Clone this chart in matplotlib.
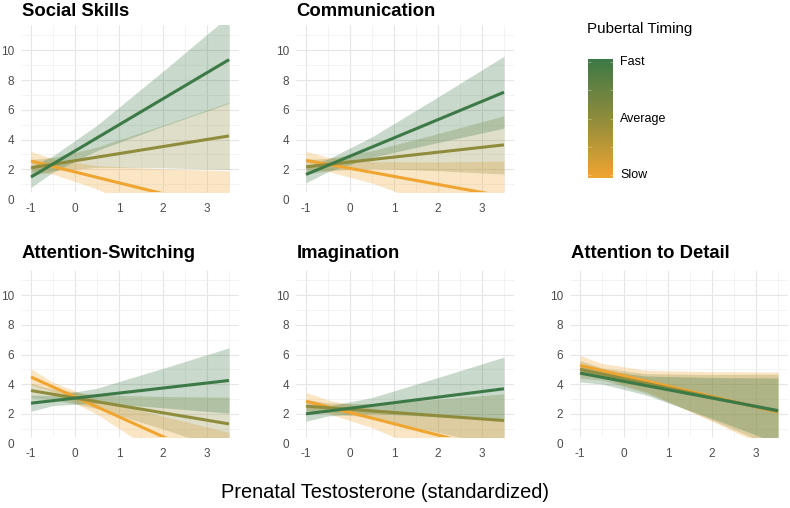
import numpy as np
import matplotlib
matplotlib.use("Agg")
import matplotlib.pyplot as plt
from matplotlib.colors import LinearSegmentedColormap
from matplotlib.patches import Rectangle

plt.rcParams["font.family"] = ["Liberation Sans", "DejaVu Sans"]

# DATA

panel_titles = ["Social Skills", "Communication", "Attention-Switching",
                "Imagination", "Attention to Detail"]
groups = ["Slow", "Average", "Fast"]
legend_labels = ["Fast", "Average", "Slow"]

line_x = [-1, 3.5]
band_x = [-1, -0.5, 0.5, 2, 3.5]

# order inside each list: Slow, Average, Fast
social_line = [[2.55, -0.74], [2.10, 4.24], [1.48, 9.37]]
social_low = [[1.90, 1.67, 0.67, -1.31, -3.38],
              [1.54, 1.89, 2.13, 2.10, 1.98],
              [0.78, 1.81, 3.26, 4.89, 6.43]]
social_high = [[3.20, 2.70, 2.24, 2.03, 1.90],
               [2.66, 2.79, 3.49, 4.96, 6.50],
               [2.18, 2.90, 4.96, 8.59, 12.31]]

comm_line = [[2.60, 0.17], [2.16, 3.64], [1.65, 7.18]]
comm_low = [[2.00, 1.85, 1.07, -0.53, -2.21],
            [1.66, 1.91, 2.05, 1.90, 1.68],
            [1.09, 1.84, 2.80, 3.80, 4.76]]
comm_high = [[3.20, 2.81, 2.51, 2.49, 2.55],
             [2.66, 2.73, 3.25, 4.40, 5.60],
             [2.21, 2.68, 4.18, 6.86, 9.60]]

switch_line = [[4.48, -1.55], [3.57, 1.32], [2.72, 4.25]]
switch_low = [[3.92, 3.49, 1.97, -0.92, -3.85],
              [3.07, 2.97, 2.36, 0.97, -0.48],
              [2.17, 2.56, 2.73, 2.41, 2.05]]
switch_high = [[5.04, 4.13, 2.97, 1.84, 0.75],
               [4.07, 3.67, 3.28, 3.17, 3.12],
               [3.27, 3.22, 3.73, 5.07, 6.45]]

imag_line = [[2.85, -0.57], [2.52, 1.55], [2.00, 3.69]]
imag_low = [[2.25, 2.01, 1.07, -0.81, -2.77],
            [2.07, 2.09, 1.72, 0.75, -0.25],
            [1.50, 1.86, 2.02, 1.81, 1.55]]
imag_high = [[3.45, 2.93, 2.35, 1.95, 1.63],
             [2.97, 2.73, 2.68, 2.99, 3.35],
             [2.50, 2.52, 3.10, 4.45, 5.83]]

detail_line = [[5.27, 2.12], [5.00, 2.17], [4.75, 2.22]]
detail_low = [[4.60, 4.44, 3.50, 1.50, -0.58],
              [4.40, 4.28, 3.41, 1.57, -0.33],
              [4.15, 4.01, 3.27, 1.69, 0.02]]
detail_high = [[5.94, 5.40, 4.94, 4.84, 4.82],
               [5.60, 5.10, 4.71, 4.65, 4.67],
               [5.35, 4.93, 4.55, 4.45, 4.42]]

lines = [social_line, comm_line, switch_line, imag_line, detail_line]
lows = [social_low, comm_low, switch_low, imag_low, detail_low]
highs = [social_high, comm_high, switch_high, imag_high, detail_high]

x_ticks = [-1, 0, 1, 2, 3]
y_ticks = [0, 2, 4, 6, 8, 10]

# STYLE

colors = {"Slow": "#f0a530", "Average": "#8f8c3d", "Fast": "#3d7946"}
W, H = 790, 508
XLIM = (-1.225, 3.725)
YLIM = (0, 11.7)
Y_CUT = 0.47

fig = plt.figure(figsize=(W / 100, H / 100), dpi=100)


def px_axes(left, top, right, bottom):
    return fig.add_axes([left / W, 1 - bottom / H, (right - left) / W, (bottom - top) / H])


col_x = [31, 306, 580]          # pixel of x = -1 in each column
row_y = [(25, 199), (270, 443.5)]
slots = [(0, 0), (0, 1), (1, 0), (1, 1), (1, 2)]

for i, title in enumerate(panel_titles):
    r, c = slots[i]
    top, bottom = row_y[r]
    left = col_x[c] - 0.225 * 44
    right = col_x[c] + 4.725 * 44
    ax = px_axes(left, top, right, bottom)
    ax.set_xlim(*XLIM)
    ax.set_ylim(*YLIM)

    # grid (panel starts a bit above zero)
    for gx in np.arange(-1, 4, 1):
        ax.vlines(gx, Y_CUT, YLIM[1], color="#e6e6e6", lw=0.8, zorder=0)
    for gx in np.arange(-0.5, 4, 1):
        ax.vlines(gx, Y_CUT, YLIM[1], color="#f0f0f0", lw=0.55, zorder=0)
    for gy in [2, 4, 6, 8, 10]:
        ax.hlines(gy, *XLIM, color="#e6e6e6", lw=0.8, zorder=0)
    for gy in [1, 3, 5, 7, 9, 11]:
        ax.hlines(gy, *XLIM, color="#f0f0f0", lw=0.55, zorder=0)

    clip = Rectangle((XLIM[0], Y_CUT), XLIM[1] - XLIM[0], YLIM[1] - Y_CUT,
                     transform=ax.transData, visible=False)
    ax.add_patch(clip)

    for g, name in enumerate(groups):
        band = ax.fill_between(band_x, lows[i][g], highs[i][g],
                               color=colors[name], alpha=0.28, lw=0, zorder=1)
        band.set_clip_path(clip)
    for g, name in enumerate(groups):
        ln, = ax.plot(line_x, lines[i][g], color=colors[name], lw=2.2,
                      solid_capstyle="butt", zorder=2)
        ln.set_clip_path(clip)

    ax.set_xticks(x_ticks)
    ax.set_xticklabels([str(v) for v in x_ticks])
    ax.set_yticks(y_ticks)
    ax.set_yticklabels([str(v) for v in y_ticks])
    ax.tick_params(length=0, labelsize=8.5, labelcolor="#4d4d4d")
    ax.tick_params(axis="x", pad=3)
    ax.tick_params(axis="y", pad=5)
    for s in ax.spines.values():
        s.set_visible(False)
    ax.patch.set_visible(False)

    title_base = 15.5 if r == 0 else 258.5
    fig.text((left + 0.5) / W, 1 - title_base / H, title, fontsize=13.3,
             fontweight="bold", color="black", va="baseline", ha="left")

# LEGEND (colour bar)

cmap = LinearSegmentedColormap.from_list("pt", [colors["Slow"], colors["Average"], colors["Fast"]])
fig.text(587 / W, 1 - 29 / H, "Pubertal Timing", fontsize=10.9, va="center", ha="left")
cax = px_axes(588, 59.3, 612.7, 178.3)
grad = np.linspace(-1.05, 1.05, 256).reshape(-1, 1)
cax.imshow(grad, aspect="auto", cmap=cmap, origin="lower",
           extent=[0, 1, -1.05, 1.05], vmin=-1.05, vmax=1.05)
for lv in [-1, -0.5, 0, 0.5, 1]:
    cax.hlines(lv, 0, 0.12, color="white", lw=0.5, alpha=0.5)
    cax.hlines(lv, 0.88, 1, color="white", lw=0.5, alpha=0.5)
cax.set_xlim(0, 1)
cax.set_ylim(-1.05, 1.05)
cax.axis("off")
for lab, lv in zip(legend_labels, [1, 0, -1]):
    cax.text(1.3, lv, lab, fontsize=9, va="center", ha="left",
             transform=cax.transData, clip_on=False)

fig.text(385 / W, 1 - 493 / H, "Prenatal Testosterone (standardized)",
         fontsize=14.4, ha="center", va="center")

fig.savefig("out.png", dpi=100)
